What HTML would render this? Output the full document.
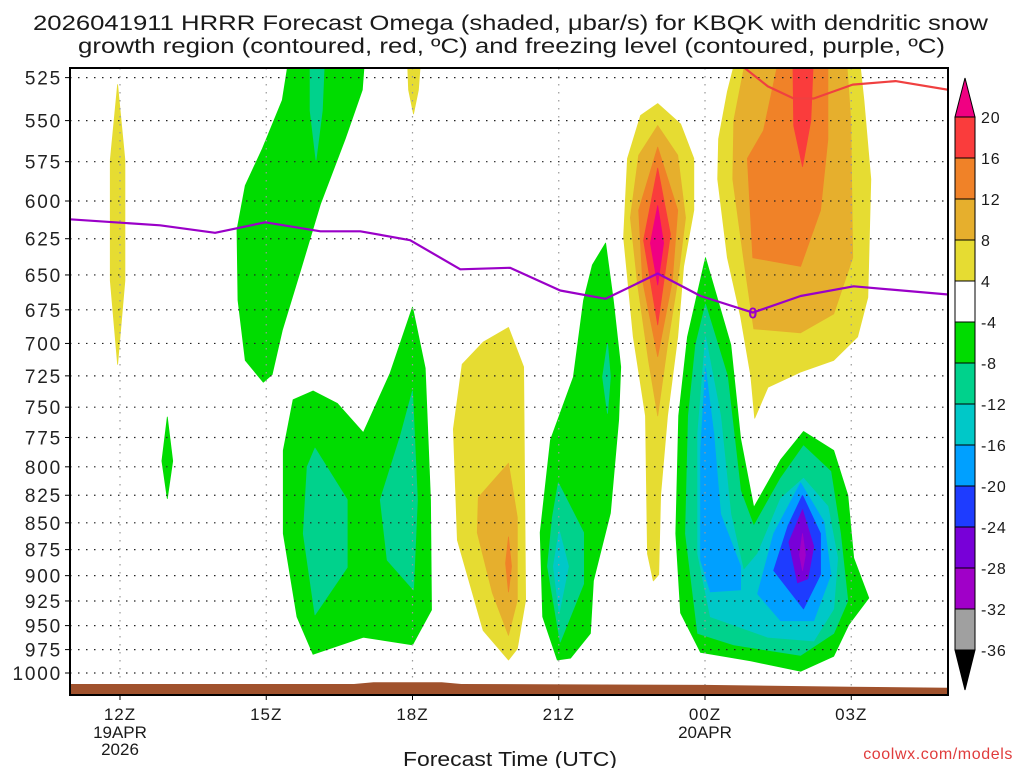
<!DOCTYPE html>
<html><head><meta charset="utf-8"><style>
html,body{margin:0;padding:0;background:#fff;}
svg{display:block;font-family:"Liberation Sans",sans-serif;}
</style></head><body>
<svg id="chart" width="1024" height="768" xmlns="http://www.w3.org/2000/svg">
<text x="33" y="30" textLength="955" lengthAdjust="spacingAndGlyphs" font-size="21" fill="#1a1a1a">2026041911 HRRR Forecast Omega (shaded, μbar/s) for KBQK with dendritic snow</text>
<text x="78" y="53" textLength="867" lengthAdjust="spacingAndGlyphs" font-size="21" fill="#1a1a1a">growth region (contoured, red, ºC) and freezing level (contoured, purple, ºC)</text>
<g id="plot"></g>
<g id="axes"></g>
<g id="cbar"></g>
<text x="403" y="766" textLength="214" lengthAdjust="spacingAndGlyphs" font-size="20" fill="#1a1a1a">Forecast Time (UTC)</text>
<text x="1013" y="759" text-anchor="end" font-size="16" letter-spacing="0.6" fill="#e03c3c">coolwx.com/models</text>
</svg>
<script>
// ---- data ----
const pressureLevels=[525,550,575,600,625,650,675,700,725,750,775,800,825,850,875,900,925,950,975,1000];
const timeTicks=[0,3,6,9,12,15];
const timeLabels=["12Z","15Z","18Z","21Z","00Z","03Z"];
const dateLabels={0:["19APR","2026"],12:["20APR"]};
const cbarLevels=[20,16,12,8,4,-4,-8,-12,-16,-20,-24,-28,-32,-36];
const cbarColors=["#fa3c3c","#f08228","#e6af2d","#e6dc32","#ffffff","#00dc00","#00d28c","#00c8c8","#00a0ff","#1e3cff","#7800d8","#a000c8","#a0a0a0"];
const topColor="#f00082", bottomColor="#000000";
const C={y:"#e6dc32",lo:"#e6af2d",o:"#f08228",r:"#fa3c3c",m:"#f00082",g:"#00dc00",t:"#00d28c",c:"#00c8c8",b:"#00a0ff",db:"#1e3cff",p:"#7800d8",v:"#a000c8"};
const yellowLeft=[[-0.05,529],[0.1,574],[0.1,654],[-0.05,716],[-0.2,654],[-0.2,574]];
const greenDiamond=[[0.97,758],[1.08,795],[0.97,828],[0.86,795]];
const greenUpper=[[3.49,510],[5.03,510],[4.97,532],[4.62,561],[4.11,602],[3.7,647],[3.33,690],[3.12,724],[2.94,730],[2.57,713],[2.42,668],[2.4,619],[2.57,590],[2.92,567],[3.33,538]];
const tealUpper=[[3.9,510],[4.2,510],[4.15,544],[4.02,574],[3.9,544]];
const yellowSmall=[[5.89,510],[6.18,510],[6.12,532],[6.02,546],[5.92,532]];
const greenLower=[[3.96,737],[4.46,747],[4.99,771],[5.54,723],[6.0,673],[6.26,719],[6.37,829],[6.39,934],[6.0,970],[4.99,962],[3.96,980],[3.63,941],[3.35,860],[3.35,786],[3.55,744]];
const tealLowerL=[[4.0,784],[4.66,829],[4.66,892],[4.0,939],[3.76,860],[3.84,800]];
const tealLowerR=[[6.0,737],[6.1,829],[6.02,914],[5.48,885],[5.34,829],[5.75,774]];
const yellowMid=[[7.97,688],[8.28,718],[8.32,924],[8.15,974],[7.97,986],[7.45,955],[6.92,866],[6.84,768],[7.02,716],[7.45,699]];
const ltOrangeMid=[[7.97,797],[8.15,845],[8.15,924],[7.97,960],[7.64,917],[7.33,859],[7.35,827]];
const orangeMid=[[7.97,863],[8.03,891],[7.97,916],[7.91,888]];
const green21=[[9.96,628],[10.12,668],[10.27,718],[10.23,760],[10.06,841],[9.71,905],[9.65,958],[9.24,984],[8.97,986],[8.67,941],[8.62,859],[8.83,777],[9.03,755],[9.3,726],[9.51,668],[9.69,643]];
const teal21=[[8.99,814],[9.51,859],[9.51,908],[9.03,967],[8.77,891],[8.87,845]];
const cyan21=[[9.01,857],[9.2,891],[9.01,937],[8.89,891]];
const tealUp21=[[10.0,700],[10.06,726],[10.0,755],[9.9,726]];
const towerY=[[11.03,540],[11.5,552],[11.77,573],[11.77,606],[11.56,644],[11.44,695],[11.23,757],[11.09,825],[11.05,899],[10.94,905],[10.82,879],[10.78,757],[10.53,695],[10.33,624],[10.41,573],[10.68,547]];
const towerLO=[[11.03,553],[11.44,571],[11.6,611],[11.44,654],[11.23,701],[11.03,757],[10.84,713],[10.62,657],[10.47,611],[10.64,571]];
const towerO=[[11.03,566],[11.44,606],[11.33,654],[11.03,710],[10.72,654],[10.64,606]];
const towerR=[[11.03,579],[11.29,622],[11.03,686],[10.74,626]];
const towerM=[[11.03,603],[11.15,628],[11.03,657],[10.88,628]];
const rightY=[[12.67,510],[12.46,533],[12.28,561],[12.26,586],[12.46,638],[12.73,680],[12.94,725],[13.02,759],[13.29,734],[13.96,722],[14.64,713],[15.13,695],[15.34,666],[15.4,586],[15.26,538],[15.15,510]];
const rightLO=[[12.87,510],[12.59,550],[12.57,586],[12.79,638],[13.0,689],[13.96,692],[14.64,678],[15.03,638],[14.99,550],[14.89,510]];
const rightO=[[13.55,510],[13.2,556],[12.87,573],[12.98,638],[13.96,644],[14.37,606],[14.52,561],[14.52,510]];
const rightR=[[13.8,510],[14.23,510],[14.17,550],[14.0,578],[13.82,553]];
const lowG=[[12.01,638],[12.53,701],[12.73,776],[13.0,836],[13.55,794],[14.02,770],[14.64,786],[14.93,825],[15.05,883],[15.36,922],[14.95,949],[14.64,982],[13.96,998],[12.94,987],[11.91,978],[11.5,937],[11.4,860],[11.46,757],[11.64,695]];
const lowT=[[12.01,671],[12.46,725],[12.73,821],[13.0,853],[13.55,810],[14.02,782],[14.58,804],[14.78,860],[14.93,925],[14.64,958],[13.96,981],[12.59,970],[11.85,958],[11.6,860],[11.66,757],[11.81,701]];
const lowC=[[12.01,695],[12.32,757],[12.53,842],[12.79,895],[13.08,879],[13.55,828],[14.02,810],[14.52,835],[14.72,883],[14.64,933],[14.23,966],[13.29,962],[12.11,941],[11.85,879],[11.85,772]];
const lowBL=[[12.01,719],[12.18,772],[12.32,842],[12.73,891],[12.73,914],[12.11,916],[11.91,885],[11.91,786]];
const lowBR=[[13.96,814],[14.44,849],[14.58,899],[14.23,945],[13.55,945],[13.08,918],[13.41,860]];
const lowDB=[[14.0,825],[14.37,860],[14.37,899],[14.02,933],[13.41,895],[13.7,853]];
const lowP=[[14.0,838],[14.23,872],[14.11,903],[13.9,907],[13.72,868]];
const lowV=[[14.0,860],[14.06,880],[14.0,895],[13.94,880]];
const shades=[["y",yellowLeft],["g",greenDiamond],["g",greenUpper],["t",tealUpper],["y",yellowSmall],
 ["g",greenLower],["t",tealLowerL],["t",tealLowerR],["y",yellowMid],["lo",ltOrangeMid],["o",orangeMid],
 ["g",green21],["t",teal21],["c",cyan21],["t",tealUp21],
 ["y",towerY],["lo",towerLO],["o",towerO],["r",towerR],["m",towerM],
 ["y",rightY],["lo",rightLO],["o",rightO],["r",rightR],
 ["g",lowG],["t",lowT],["c",lowC],["b",lowBL],["b",lowBR],["db",lowDB],["p",lowP],["v",lowV]];
const freezingHours=[-1.03,0.82,1.95,2.98,4.11,4.93,5.95,6.98,8.0,9.03,9.96,11.03,11.91,12.98,13.96,15.05,17.0];
const freezingP=[612,616,621,614,620,620,626,646,645,661,667,649,665,677,665,658,664];
const dgzHours=[12.6,13.29,13.82,14.23,15.03,15.91,17.0];
const dgzP=[515,530,537,537,529,527,532];
const groundHours=[-1.03,4.8,5.2,6.6,7.0,12,15,17];
const groundP=[1012,1012,1010,1010,1012,1013,1015,1016];

// ---- scales ----
const X0=70,X1=948,Y0=68,Y1=695;
const xs=h=>120+h*48.75;
const ys=p=>673-924*Math.log(1000/p);
const NS="http://www.w3.org/2000/svg";
function mk(tag,attrs,parent){const e=document.createElementNS(NS,tag);for(const k in attrs)e.setAttribute(k,attrs[k]);parent.appendChild(e);return e;}
const plot=document.getElementById('plot'),axes=document.getElementById('axes'),cbar=document.getElementById('cbar');
const clip=mk('clipPath',{id:'clipPlot'},mk('defs',{},plot));
mk('rect',{x:X0,y:Y0,width:X1-X0,height:Y1-Y0},clip);
const g=mk('g',{'clip-path':'url(#clipPlot)'},plot);



shades.forEach(([k,poly],i)=>{
  const pts=poly.map(([h,p])=>xs(h).toFixed(1)+','+ys(p).toFixed(1)).join(' ');
  const el=mk('polygon',{points:pts,fill:C[k],stroke:C[k],'stroke-width':0.8,'stroke-linejoin':'round'},g);
  
  
});
pressureLevels.forEach(p=>{
  const l=mk('line',{x1:X0,x2:X1,y1:ys(p),y2:ys(p),stroke:'#222','stroke-width':1.2,'stroke-dasharray':'1.5 6.5'},g);
  
  
});
timeTicks.forEach(h=>{
  const l=mk('line',{x1:xs(h),x2:xs(h),y1:Y0,y2:Y1,stroke:'#999','stroke-width':1.2,'stroke-dasharray':'1.5 6.5'},g);
  
  
});
let gp='M'+xs(groundHours[0])+','+Y1;
groundHours.forEach((h,i)=>{gp+=' L'+xs(h).toFixed(1)+','+ys(groundP[i]).toFixed(1);});
gp+=' L'+xs(groundHours[groundHours.length-1])+','+Y1+' Z';
const gr=mk('path',{d:gp,fill:'#a0522d'},g);


function line(hs,ps,color,name){
  const d=hs.map((h,i)=>(i?'L':'M')+xs(h).toFixed(1)+','+ys(ps[i]).toFixed(1)).join(' ');
  const e=mk('path',{d:d,fill:'none',stroke:color,'stroke-width':2.2,'stroke-linejoin':'round'},g);
  
  
}
line(dgzHours,dgzP,'#f04040','dgz-contour');
line(freezingHours,freezingP,'#9a00c8','freezing-level-contour');
const fl=mk('text',{x:xs(12.98),y:ys(677)+6,'text-anchor':'middle','font-size':16,'font-weight':'bold',fill:'#9a00c8'},g);
fl.textContent='0';


const fr=mk('rect',{x:X0,y:Y0,width:X1-X0,height:Y1-Y0,fill:'none',stroke:'#000','stroke-width':2},axes);


pressureLevels.forEach(p=>{
  mk('line',{x1:X0-5,x2:X0,y1:ys(p),y2:ys(p),stroke:'#000','stroke-width':1},axes);
  const t=mk('text',{x:X0-8,y:ys(p)+7,'text-anchor':'end','font-size':19,'letter-spacing':1.8,fill:'#222'},axes);
  t.textContent=p;
  
  
});
timeTicks.forEach((h,i)=>{
  mk('line',{x1:xs(h),x2:xs(h),y1:Y1,y2:Y1+5,stroke:'#000','stroke-width':1},axes);
  const t=mk('text',{x:xs(h),y:720,'text-anchor':'middle','font-size':17,'letter-spacing':1,fill:'#1a1a1a'},axes);
  t.textContent=timeLabels[i];
  
  
  (dateLabels[h]||[]).forEach((s,j)=>{
    const d=mk('text',{x:xs(h),y:738+j*17,'text-anchor':'middle','font-size':17,fill:'#1a1a1a'},axes);
    d.textContent=s;
    
    
  });
});
const CB0=955,CBW=20,cy=i=>117+i*41;
cbarColors.forEach((col,i)=>{
  const r=mk('rect',{x:CB0,y:cy(i),width:CBW,height:41,fill:col,stroke:'#000','stroke-width':1},cbar);
  
  
});
const tt=mk('polygon',{points:`${CB0},${cy(0)} ${CB0+CBW/2},78 ${CB0+CBW},${cy(0)}`,fill:topColor,stroke:'#000'},cbar);


const n=cbarColors.length;
const bt=mk('polygon',{points:`${CB0},${cy(n)} ${CB0+CBW/2},690 ${CB0+CBW},${cy(n)}`,fill:bottomColor,stroke:'#000'},cbar);


cbarLevels.forEach((v,i)=>{
  const t=mk('text',{x:981,y:cy(i)+6,'font-size':16,'letter-spacing':0.8,fill:'#1a1a1a'},cbar);
  t.textContent=v;
  
  
});
</script>
</body></html>
